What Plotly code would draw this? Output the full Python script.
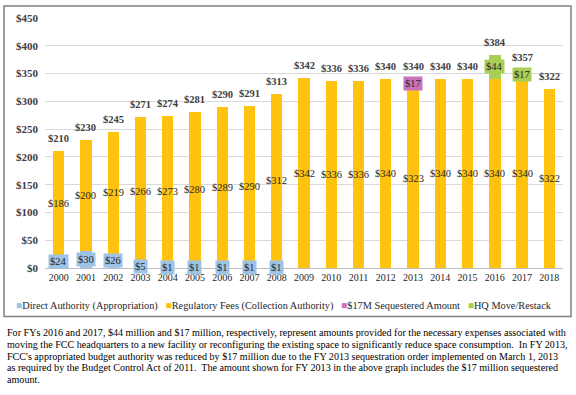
import plotly.graph_objects as go

years = [str(y) for y in range(2000, 2019)]
direct = [24, 30, 26, 5, 1, 1, 1, 1, 1, 0, 0, 0, 0, 0, 0, 0, 0, 0, 0]
fees = [186, 200, 219, 266, 273, 280, 289, 290, 312, 342, 336, 336, 340, 323, 340, 340, 340, 340, 322]
sequestered = [0, 0, 0, 0, 0, 0, 0, 0, 0, 0, 0, 0, 0, 17, 0, 0, 0, 0, 0]
hq_move = [0, 0, 0, 0, 0, 0, 0, 0, 0, 0, 0, 0, 0, 0, 0, 0, 44, 17, 0]
series_names = ["Direct Authority (Appropriation)", "Regulatory Fees (Collection Authority)",
                "$17M Sequestered Amount", "HQ Move/Restack"]
colors = ["#9DC3E6", "#FFC20E", "#C973BA", "#A8CF55"]
y_ticks = [0, 50, 100, 150, 200, 250, 300, 350, 400, 450]
caption_lines = [
    "For FYs 2016 and 2017, $44 million and $17 million, respectively, represent amounts provided for the necessary expenses associated with",
    "moving the FCC headquarters to a new facility or reconfiguring the existing space to significantly reduce space consumption.  In FY 2013,",
    "FCC's appropriated budget authority was reduced by $17 million due to the FY 2013 sequestration order implemented on March 1, 2013",
    "as required by the Budget Control Act of 2011.  The amount shown for FY 2013 in the above graph includes the $17 million sequestered",
    "amount.",
]

FONT = "Liberation Serif"
W, H = 576, 395
L, R, T, B = 45, 13, 16, 127
PW, PH = W - L - R, H - T - B


def px_x(p):
    return (p - L) / PW


def px_y(p):
    return (H - B - p) / PH


series = [direct, fees, sequestered, hq_move]
fig = go.Figure()
for vals, name, col in zip(series, series_names, colors):
    fig.add_trace(go.Bar(x=years, y=vals, name=name, marker_color=col,
                         marker_line_width=0, showlegend=False))

ann = []
for i, yr in enumerate(years):
    base = 0
    for k, vals in enumerate(series):
        v = vals[i]
        if v > 0:
            a = dict(x=i, y=base + v / 2, text=f"${v}", showarrow=False,
                     font=dict(family=FONT, size=10.5, color="#262626"))
            if k != 1:
                a.update(bgcolor=colors[k], borderpad=1)
            ann.append(a)
        base += v
    ann.append(dict(x=i, y=base, text=f"<b>${base}</b>", showarrow=False,
                    yanchor="bottom", yshift=5,
                    font=dict(family=FONT, size=10.5, color="#404040")))

legend_text = "   ".join(
    f"<span style='color:{c}'>■</span>{n}" for n, c in zip(series_names, colors))
ann.append(dict(x=px_x(284), y=px_y(306), xref="paper", yref="paper", text=legend_text,
                showarrow=False, xanchor="center", yanchor="middle",
                font=dict(family=FONT, size=10.3, color="#262626")))
for j, (line, ypx) in enumerate(zip(caption_lines, [333, 345, 357, 368.5, 380])):
    ann.append(dict(x=px_x(5), y=px_y(ypx), xref="paper", yref="paper", text=line,
                    showarrow=False, xanchor="left", yanchor="middle", align="left",
                    font=dict(family=FONT, size=10.1, color="#000000")))

fig.update_layout(
    width=W, height=H, margin=dict(l=L, r=R, t=T, b=B),
    barmode="stack", bargap=0.585,
    plot_bgcolor="white", paper_bgcolor="white",
    annotations=ann,
    shapes=[dict(type="rect", xref="paper", yref="paper",
                 x0=px_x(4), x1=px_x(571), y0=px_y(317), y1=px_y(4),
                 line=dict(color="#808080", width=1.5), fillcolor="rgba(0,0,0,0)",
                 layer="below")],
)
fig.update_xaxes(type="category", range=[-0.5, len(years) - 0.5], showline=True,
                 linecolor="#BFBFBF", linewidth=1,
                 tickfont=dict(family=FONT, size=10, color="#262626"), ticks="",
                 showgrid=False)
fig.update_yaxes(range=[0, 450], tickvals=y_ticks, ticktext=[f"<b>${v}</b>" for v in y_ticks],
                 gridcolor="#D9D9D9", gridwidth=1, zeroline=False, showline=False,
                 tickfont=dict(family=FONT, size=11, color="#404040"),
                 ticklabelstandoff=6)

fig.write_html("out.html", config={"displayModeBar": False},
               post_script="document.body.style.margin='0';document.body.style.overflow='hidden';")
